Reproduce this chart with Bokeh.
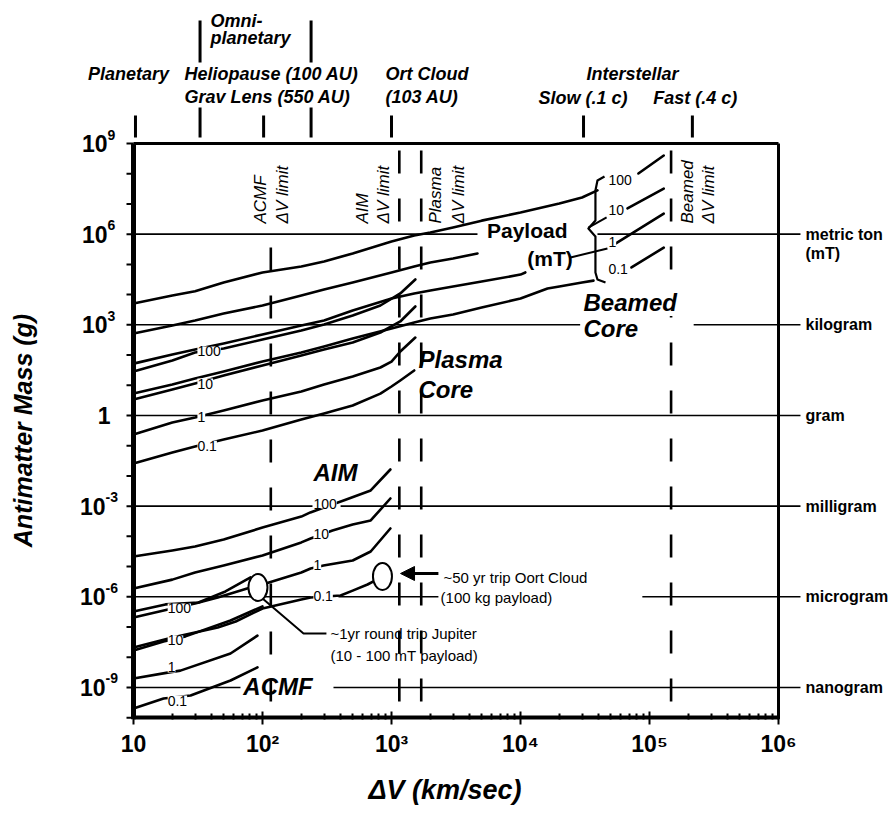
import math
from bokeh.plotting import figure
from bokeh.models import Range1d, FixedTicker, Label, Arrow, NormalHead, CustomJSTickFormatter
from bokeh.embed import file_html
from bokeh.resources import INLINE
from bokeh.core.properties import value

FONT = "Liberation Sans"
INK = "black"

# ---------------- values (dV in km/s, antimatter mass in g) ----------------
# Beamed core, payload 100 / 10 / 1 / 0.1 mT
BEAMED_100_DV = [10, 20, 30, 50, 100, 200, 300, 500, 1000, 1500, 2000, 3000, 5000, 1e4, 2e4, 3e4, 3.95e4]
BEAMED_100_M = [5.1e3, 9.3e3, 1.3e4, 2.5e4, 5.4e4, 8.5e4, 1.25e5, 2.3e5, 5.7e5, 9.0e5, 1.14e6, 1.66e6,
                2.8e6, 5.2e6, 1.04e7, 1.63e7, 2.8e7]
BEAMED_10_DV = [10, 20, 30, 50, 100, 200, 300, 500, 1000, 1500, 2000, 3000, 4640]
BEAMED_10_M = [517, 951, 1.39e3, 2.37e3, 4.36e3, 9.3e3, 1.48e4, 2.5e4, 5.4e4, 8.5e4, 1.15e5, 1.57e5, 2.3e5]
BEAMED_1_DV = [10, 20, 30, 50, 100, 200, 300, 500, 1000, 1500, 2000, 3000, 5000, 1e4, 1.09e4]
BEAMED_1_M = [52, 104, 152, 241, 479, 951, 1.39e3, 2.98e3, 7.4e3, 1.09e4, 1.37e4, 1.85e4, 2.7e4, 4.6e4, 5.4e4]
BEAMED_01_DV = [10, 20, 30, 50, 100, 200, 300, 500, 1000, 1500, 2000, 3000, 5000, 1e4, 1.62e4, 2e4, 3e4, 3.68e4]
BEAMED_01_M = [5.3, 10.6, 16.7, 28.5, 61, 121, 192, 352, 755, 1.19e3, 1.62e3, 2.19e3, 3.74e3, 7.4e3,
               1.59e4, 1.85e4, 2.5e4, 2.9e4]
# short continuations right of the payload bracket (100, 10, 1, 0.1)
BEAMED_TAIL_DV0 = [8.2e4, 6.75e4, 5.45e4, 7.25e4]
BEAMED_TAIL_DV1 = [1.29e5, 1.29e5, 1.29e5, 1.29e5]
BEAMED_TAIL_M0 = [1.02e8, 7.1e6, 4.9e5, 7.9e4]
BEAMED_TAIL_M1 = [4.0e8, 3.2e7, 4.8e6, 3.6e5]

# Plasma core
PLASMA_DV = [10, 20, 30, 50, 100, 200, 300, 500, 820, 1170, 1530]
PLASMA_100_M = [28.5, 66, 121, 164, 327, 649, 1.03e3, 2.03e3, 4.36e3, 1.09e4, 3.16e4]
PLASMA_10_M = [3.38, 7.2, 11.4, 21, 45, 97, 152, 260, 557, 1.29e3, 4.04e3]
PLASMA_1_DV = [10, 20, 30, 50, 100, 200, 300, 500, 820, 1000, 1170, 1530]
PLASMA_1_M = [0.235, 0.586, 0.857, 1.46, 3.13, 6.2, 10.6, 19.5, 38.7, 61, 131, 380]
PLASMA_01_DV = [10, 20, 30, 50, 100, 200, 300, 500, 820, 1000, 1170, 1500]
PLASMA_01_M = [0.0258, 0.0596, 0.094, 0.16, 0.318, 0.736, 1.16, 2.14, 5.3, 9.1, 14.4, 30.8]

# AIM
AIM_100_DV = [10, 20, 30, 50, 100, 200, 235, 425, 690, 980]
AIM_100_M = [2.16e-5, 3.4e-5, 4.6e-5, 7.9e-5, 1.96e-4, 4.5e-4, 6.2e-4, 1.54e-3, 3.3e-3, 1.63e-2]
AIM_10_DV = [10, 20, 30, 50, 100, 200, 236, 349, 500, 690, 980]
AIM_10_M = [1.88e-6, 3.7e-6, 6.4e-6, 1.09e-5, 2.33e-5, 6.3e-5, 8.5e-5, 1.56e-4, 2.47e-4, 3.35e-4, 1.79e-3]
AIM_1_DV = [10, 20, 30, 45, 76, 100, 200, 236, 297, 500, 690, 980]
AIM_1_M = [2.07e-7, 4.1e-7, 6.0e-7, 9.5e-7, 1.88e-6, 2.55e-6, 6.4e-6, 8.6e-6, 1.09e-5, 1.59e-5, 3.15e-5, 1.82e-4]
AIM_01_DV = [10, 20, 30, 45, 62, 100, 200, 236, 403, 500, 652, 750]
AIM_01_M = [2.1e-8, 4.5e-8, 6.6e-8, 9.6e-8, 1.52e-7, 4.1e-7, 8.1e-7, 9.5e-7, 1.1e-6, 1.6e-6, 2.55e-6, 3.5e-6]

# ACMF
ACMF_100_DV = [10, 17.7, 31.9, 51.6, 80.8]
ACMF_100_M = [3.27e-7, 5.6e-7, 6.5e-7, 1.5e-6, 4.4e-6]
ACMF_10_DV = [10, 17.1, 25.3, 56.5, 100]
ACMF_10_M = [1.67e-8, 3.3e-8, 4.9e-8, 1.64e-7, 4.8e-7]
ACMF_1_DV = [10, 18.4, 23.1, 56.5, 91.4]
ACMF_1_M = [1.98e-9, 3.1e-9, 3.6e-9, 1.33e-8, 5.2e-8]
ACMF_01_DV = [10, 17.1, 27.7, 56.5, 91.4]
ACMF_01_M = [2.0e-10, 4.3e-10, 5.4e-10, 1.7e-9, 4.6e-9]

CURVES = [
    (BEAMED_100_DV, BEAMED_100_M), (BEAMED_10_DV, BEAMED_10_M), (BEAMED_1_DV, BEAMED_1_M),
    (BEAMED_01_DV, BEAMED_01_M),
    (PLASMA_DV, PLASMA_100_M), (PLASMA_DV, PLASMA_10_M), (PLASMA_1_DV, PLASMA_1_M), (PLASMA_01_DV, PLASMA_01_M),
    (AIM_100_DV, AIM_100_M), (AIM_10_DV, AIM_10_M), (AIM_1_DV, AIM_1_M), (AIM_01_DV, AIM_01_M),
    (ACMF_100_DV, ACMF_100_M), (ACMF_10_DV, ACMF_10_M), (ACMF_1_DV, ACMF_1_M), (ACMF_01_DV, ACMF_01_M),
]

# Axis extent of the chart box
DV_MIN, DV_MAX = 10, 1e6
M_MIN, M_MAX = 8.7e-11, 1e9
Y_TICKS = [1e9, 1e6, 1e3, 1, 1e-3, 1e-6, 1e-9]
Y_TICK_BASE = ["10", "10", "10", "1", "10", "10", "10"]
Y_TICK_EXP = ["9", "6", "3", "", "-3", "-6", "-9"]
Y_MINOR = [10.0 ** k for k in range(-10, 10)]

# Unit reference lines (mass) and their broken segments (dV start / end)
MASS_LINES = [1e6, 1e3, 1, 1e-3, 1e-6, 1e-9]
MASS_NAMES = ["metric ton", "kilogram", "gram", "milligram", "microgram", "nanogram"]
HL_M = [1e6, 1e6, 1e3, 1e3, 1, 1e-3, 1e-3, 1e-6, 1e-6, 1e-6, 1e-9, 1e-9]
HL_X0 = [10, 3.95e4, 10, 2.2e5, 10, 10, 403, 10, 388, 8.8e4, 10, 355]
HL_X1 = [4.64e3, 1.48e6, 2.9e4, 1.48e6, 1.48e6, 244, 1.48e6, 236, 2310, 1.48e6, 67.5, 1.48e6]
UNIT_LABEL_DV = 1.62e6
MT_SUB_M = 2.29e5

# dV limits of the propulsion concepts
LIMIT_DV = [116, 1150, 1700, 1.47e5]
LIMIT_TOP = [3.6e5, 5.9e8, 5.9e8, 5.9e8]
LIMIT_BOTTOM = [3.4e-10, 3.4e-10, 3.4e-10, 3.4e-10]
LIMIT_NAME = ["ACMF", "AIM", "Plasma", "Beamed"]
LIMIT_NAME_DV = [96.4, 596, 2190, 1.97e5]
LIMIT_SUB_DV = [143, 867, 3300, 2.87e5]
LIMIT_LABEL_M = [2.25e6] * 4

# payload labels on curves
PAYLOAD_TXT = ["100", "10", "1", "0.1"]
PC_LABEL_DV = [31.3] * 4
PC_LABEL_M = [131, 11.4, 0.92, 0.10]
AIM_LABEL_DV = [248] * 4
AIM_LABEL_M = [1.22e-3, 1.24e-4, 1.09e-5, 1.1e-6]
ACMF_LABEL_DV = [18.4] * 4
ACMF_LABEL_M = [4.1e-7, 3.6e-8, 4.6e-9, 3.7e-10]
BC_LABEL_DV = [4.8e4] * 4
BC_LABEL_M = [6.4e7, 6.1e6, 5.7e5, 7.3e4]

# bracket and pointers
BRACKET_DV = [4.48e4, 3.95e4, 3.81e4, 3.81e4, 3.36e4, 3.81e4, 3.81e4, 3.95e4, 4.56e4]
BRACKET_M = [8.1e7, 5.97e7, 2.79e7, 2.83e6, 1.54e6, 8.4e5, 5.4e4, 3.16e4, 2.5e4]
LINK_X0 = [3.36e4, 2.44e4]
LINK_Y0 = [1.66e6, 1.69e5]
LINK_X1 = [4.65e4, 4.72e4]
LINK_Y1 = [3.56e6, 3.36e5]
ELLIPSE_DV = [92.2, 851]
ELLIPSE_M = [2.03e-6, 4.7e-6]
JUP_PTR_DV = [100, 208, 313]
JUP_PTR_M = [8.8e-7, 6.1e-8, 6.1e-8]

# mission classes above the chart box
TOP_TICK_DV = [10.36, 32.8, 102, 238, 1000, 3.08e4, 2.15e5]
TOP_TICK_M0 = [8.45e9, 1.55e10, 8.45e9, 1.55e10, 8.45e9, 8.45e9, 8.45e9]
TOP_TICK_M1 = [1.58e9] * 7
OMNI_DV = [32.8, 238]
OMNI_M0 = [1.17e13, 1.17e13]
OMNI_M1 = [4.79e11, 4.79e11]
TOP_LEFT_TEXT = ["Omni-", "planetary", "Heliopause (100 AU)", "Grav Lens (550 AU)", "Ort Cloud", "(103 AU)",
                 "Slow (.1 c)", "Fast (.4 c)"]
TOP_LEFT_DV = [39.5, 39.5, 24.8, 24.8, 898, 898, 1.38e4, 1.07e5]
TOP_LEFT_M = [1.09e13, 2.99e12, 2.07e11, 3.5e10, 2.07e11, 3.5e10, 3.3e10, 3.3e10]
TOP_CENTER_TEXT = ["Planetary", "Interstellar"]
TOP_CENTER_DV = [9.15, 7.38e4]
TOP_CENTER_M = [2.07e11, 2.07e11]

# ---------------- layout (pixel geometry of the page) ----------------
W, H = 889, 813
BOTTOM = 94
BOX_LEFT_PX, BOX_RIGHT_PX = 133, 778      # x of dV = 10 and dV = 1e6
BOX_TOP_PX, BOX_BOTTOM_PX = 143, 719      # y of M = 1e9 and M = M_MIN
px_dec_x = (BOX_RIGHT_PX - BOX_LEFT_PX) / math.log10(DV_MAX / DV_MIN)
px_dec_y = (BOX_BOTTOM_PX - BOX_TOP_PX) / math.log10(M_MAX / M_MIN)
x_lo = 10 ** (math.log10(DV_MIN) - BOX_LEFT_PX / px_dec_x)
x_hi = 10 ** (math.log10(DV_MAX) + (W - BOX_RIGHT_PX) / px_dec_x)
y_hi = 10 ** (math.log10(M_MAX) + BOX_TOP_PX / px_dec_y)
x_at = lambda px: 10 ** (math.log10(DV_MIN) + (px - BOX_LEFT_PX) / px_dec_x)
y_at = lambda py: 10 ** (math.log10(M_MAX) - (py - BOX_TOP_PX) / px_dec_y)
y_up = lambda y, dpx: y * 10 ** (dpx / px_dec_y)

p = figure(width=W, height=H, x_axis_type="log", y_axis_type="log",
           x_range=Range1d(x_lo, x_hi), y_range=Range1d(M_MIN, y_hi),
           output_backend="svg", toolbar_location=None, y_axis_location=None,
           min_border_left=0, min_border_right=0, min_border_top=0, min_border_bottom=BOTTOM)
p.grid.visible = False
p.outline_line_color = None
p.background_fill_color = "white"
p.border_fill_color = "white"

SUP = "const sup = {'0':'\u2070','1':'\u00b9','2':'\u00b2','3':'\u00b3','4':'\u2074','5':'\u2075','6':'\u2076','7':'\u2077','8':'\u2078','9':'\u2079','-':'\u207b'};\n"
XFMT = CustomJSTickFormatter(code=SUP + """
const e = Math.round(Math.log10(tick));
if (e === 1) return '10';
let s = ''; for (const c of String(e)) s += sup[c];
return '10' + s;
""")

xa = p.xaxis[0]
xa.ticker = FixedTicker(ticks=[10.0 ** k for k in range(1, 7)],
                        minor_ticks=[m * 10.0 ** k for k in range(1, 6) for m in range(2, 10)])
xa.formatter = XFMT
xa.axis_label = "\u0394V (km/sec)"
xa.axis_label_text_font = FONT
xa.axis_label_text_font_style = "bold italic"
xa.axis_label_text_font_size = "27px"
xa.axis_label_text_color = INK
xa.axis_label_standoff = 15
xa.major_label_text_font = FONT
xa.major_label_text_font_style = "bold"
xa.major_label_text_font_size = "23px"
xa.major_label_text_color = INK
xa.major_label_standoff = 6
xa.axis_line_color = None
xa.major_tick_in = 8
xa.major_tick_out = 5
xa.minor_tick_in = 6
xa.minor_tick_out = 0
xa.major_tick_line_width = 2
xa.minor_tick_line_width = 2
xa.major_tick_line_color = INK
xa.minor_tick_line_color = INK

# chart box
p.segment(x0=[DV_MIN, DV_MIN], y0=[M_MAX, M_MIN], x1=[DV_MAX, DV_MAX], y1=[M_MAX, M_MIN],
          line_color=INK, line_width=[3, 8])
p.segment(x0=[DV_MIN, DV_MAX], y0=[M_MIN, M_MIN], x1=[DV_MIN, DV_MAX], y1=[M_MAX, M_MAX],
          line_color=INK, line_width=[5, 3])
# left decade ticks and labels (base "10" plus raised exponent)
p.segment(x0=[x_at(BOX_LEFT_PX - 7)] * len(Y_MINOR), y0=Y_MINOR, x1=[DV_MIN] * len(Y_MINOR), y1=Y_MINOR,
          line_color=INK, line_width=2)
base_right = [x_at(107) if not e.startswith("-") else x_at(105) for e in Y_TICK_EXP]
base_right[Y_TICK_EXP.index("")] = x_at(110)
p.text(x=base_right, y=Y_TICKS, text=Y_TICK_BASE, text_align="right",
       text_baseline="middle", text_font=value(FONT), text_font_style="bold", text_font_size="23px",
       text_color=INK)
p.text(x=base_right, y=[y_up(v, 9) for v in Y_TICKS], text=Y_TICK_EXP, text_align="left",
       text_baseline="middle", text_font=value(FONT), text_font_style="bold", text_font_size="14px",
       text_color=INK)
p.text(x=[x_at(22)], y=[y_at(430)], text=["Antimatter Mass (g)"], angle=math.pi / 2, text_align="center",
       text_baseline="middle", text_font=value(FONT), text_font_style="bold italic", text_font_size="25px",
       text_color=INK)

# unit lines and names
p.segment(x0=HL_X0, y0=HL_M, x1=HL_X1, y1=HL_M, line_color=INK, line_width=1.6)
p.text(x=[UNIT_LABEL_DV] * 7, y=MASS_LINES + [MT_SUB_M], text=MASS_NAMES + ["(mT)"],
       text_align="left", text_baseline="middle", text_font=value(FONT), text_font_style="bold",
       text_font_size="16px", text_color=INK)

# dV limit dashed lines
p.segment(x0=LIMIT_DV, y0=LIMIT_TOP, x1=LIMIT_DV, y1=LIMIT_BOTTOM, line_color=INK,
          line_width=2.6, line_dash="23 25")

# curves
for dv, m in CURVES:
    p.line(dv, m, line_color=INK, line_width=2.6, line_join="round", line_cap="round")
p.segment(x0=BEAMED_TAIL_DV0, y0=BEAMED_TAIL_M0, x1=BEAMED_TAIL_DV1, y1=BEAMED_TAIL_M1,
          line_color=INK, line_width=2.6, line_cap="round")

# bracket and links
p.line(BRACKET_DV, BRACKET_M, line_color=INK, line_width=2.2, line_join="round")
p.segment(x0=LINK_X0, y0=LINK_Y0, x1=LINK_X1, y1=LINK_Y1, line_color=INK, line_width=2)

# ellipses, pointers
p.line(JUP_PTR_DV, JUP_PTR_M, line_color=INK, line_width=2)
p.ellipse(x=ELLIPSE_DV, y=ELLIPSE_M, width=19, height=27, width_units="screen", height_units="screen",
          fill_color="white", line_color=INK, line_width=2)
p.add_layout(Arrow(end=NormalHead(size=14, fill_color=INK, line_color=INK),
                   x_start=2310, y_start=5.9e-6, x_end=1175, y_end=5.9e-6,
                   line_color=INK, line_width=3))

# rotated limit labels
p.text(x=LIMIT_NAME_DV, y=LIMIT_LABEL_M, text=LIMIT_NAME, angle=math.pi / 2,
       text_align="left", text_baseline="middle", text_font=value(FONT),
       text_font_style="italic", text_font_size="17px", text_color=INK)
p.text(x=LIMIT_SUB_DV, y=LIMIT_LABEL_M, text=["\u0394V limit"] * 4, angle=math.pi / 2,
       text_align="left", text_baseline="middle", text_font=value(FONT),
       text_font_style="italic", text_font_size="17px", text_color=INK)

# payload labels with white backgrounds (break the curves)
for xs, ys in [(PC_LABEL_DV, PC_LABEL_M), (AIM_LABEL_DV, AIM_LABEL_M),
               (ACMF_LABEL_DV, ACMF_LABEL_M), (BC_LABEL_DV, BC_LABEL_M)]:
    for t, x, y in zip(PAYLOAD_TXT, xs, ys):
        p.add_layout(Label(x=x, y=y, text=t, text_font=FONT, text_font_size="14px", text_color=INK,
                           text_align="left", text_baseline="middle",
                           background_fill_color="white"))

# concept names
BIG = dict(text_font=FONT, text_font_style="bold italic", text_font_size="24px", text_color=INK,
           text_align="left", text_baseline="middle")
for t, x, y in [("Plasma", 1620, 71), ("Core", 1620, 7.2), ("AIM", 248, 1.3e-2),
                ("ACMF", 71, 1.08e-9)]:
    p.add_layout(Label(x=x, y=y, text=t, **BIG))
for t, x, y in [("Beamed", 3.08e4, 5.5e3), ("Core", 3.08e4, 755)]:
    p.add_layout(Label(x=x, y=y, text=t, background_fill_color="white", **BIG))
PL = dict(text_font=FONT, text_font_style="bold", text_font_size="21px", text_color=INK,
          text_align="left", text_baseline="middle")
p.add_layout(Label(x=5.5e3, y=1.32e6, text="Payload", **PL))
p.add_layout(Label(x=1.13e4, y=1.56e5, text="(mT)", **PL))

NOTE = dict(text_font=FONT, text_font_size="15px", text_color=INK, text_align="left", text_baseline="middle")
p.add_layout(Label(x=2530, y=4.4e-6, text="~50 yr trip Oort Cloud", **NOTE))
p.add_layout(Label(x=2400, y=9.5e-7, text="(100 kg payload)", **NOTE))
p.add_layout(Label(x=336, y=6.1e-8, text="~1yr round trip Jupiter", **NOTE))
p.add_layout(Label(x=336, y=1.14e-8, text="(10 - 100 mT payload)", **NOTE))

# mission classes above the box
p.segment(x0=TOP_TICK_DV, y0=TOP_TICK_M0, x1=TOP_TICK_DV, y1=TOP_TICK_M1, line_color=INK, line_width=3)
p.segment(x0=OMNI_DV, y0=OMNI_M0, x1=OMNI_DV, y1=OMNI_M1, line_color=INK, line_width=3)
p.text(x=TOP_LEFT_DV, y=TOP_LEFT_M, text=TOP_LEFT_TEXT, text_align="left", text_baseline="middle",
       text_font=value(FONT), text_font_style="bold italic", text_font_size="18px", text_color=INK)
p.text(x=TOP_CENTER_DV, y=TOP_CENTER_M, text=TOP_CENTER_TEXT, text_align="center",
       text_baseline="middle", text_font=value(FONT), text_font_style="bold italic",
       text_font_size="18px", text_color=INK)

open("out.html", "w").write(file_html(p, INLINE))
